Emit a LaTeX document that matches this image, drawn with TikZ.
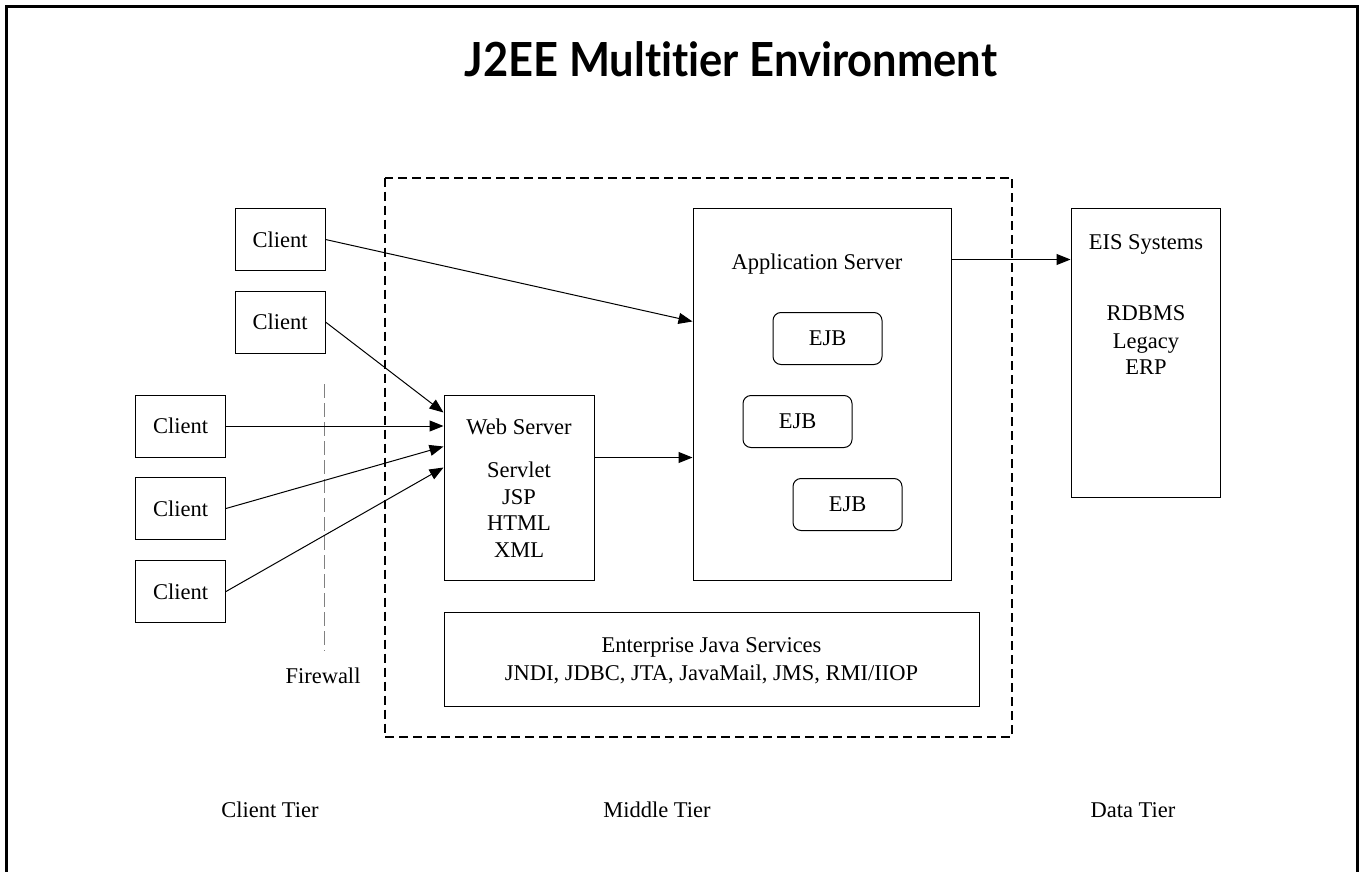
\documentclass[tikz,border=0pt]{standalone}
\usepackage{fontspec}
\setmainfont{Liberation Serif}
\newfontfamily\titlefont{Lato}[Ligatures={NoCommon}]
\usetikzlibrary{arrows.meta,calc}
\tikzset{
  txt/.style={inner sep=0pt, yshift=-5pt, font=\fontsize{22.5}{27}\selectfont, text height=0.68em, text depth=0.2em},
  box/.style={draw, line width=1pt, inner sep=0pt},
  client/.style={box, minimum width=90, minimum height=62, font=\fontsize{22.5}{27}\selectfont},
  ejb/.style={box, rounded corners=8, minimum width=109, minimum height=52, font=\fontsize{22.5}{27}\selectfont},
  arr/.style={line width=1pt, -{Triangle[length=14pt,width=11pt]}},
}
\begin{document}
\begin{tikzpicture}[x=1pt,y=-1pt]
\useasboundingbox (0,0) rectangle (1359,872);
% outer frame
\draw[line width=3pt] (6.5,872) -- (6.5,6.5) -- (1357.5,6.5) -- (1357.5,872);
% title
\node[inner sep=0pt, text height=34pt, text depth=0pt] (title) at (731,60) {\scalebox{0.925}[1]{\titlefont\bfseries\fontsize{47}{52}\selectfont J2EE Multitier Environment}};
% middle tier dashed box
\draw[line width=2pt, dash pattern=on 9pt off 5pt] (384.5,177.5) rectangle (1012,737);
% firewall
\coordinate (fwtop) at (324.5,384);
\coordinate (fwbot) at (324.5,651);
\draw[gray, line width=1.5pt, dash pattern=on 14pt off 5pt] (fwtop) -- (fwbot);
\node[txt] (fw) at (323,676) {Firewall};
% clients
\node[client] (c1) at (280,239.5) {Client};
\node[client] (c2) at (280,322) {Client};
\node[client] (c3) at (180.5,426) {Client};
\node[client] (c4) at (180.5,508.5) {Client};
\node[client] (c5) at (180.5,591.5) {Client};
% web server
\node[box, minimum width=150, minimum height=185] (web) at (519,487.5) {};
\node[txt] (webt) at (519,427) {Web Server};
\node[txt] (w1) at (519,470) {Servlet};
\node[txt] (w2) at (519,497) {JSP};
\node[txt] (w3) at (519,523.5) {HTML};
\node[txt] (w4) at (519,550) {XML};
% application server
\node[box, minimum width=258, minimum height=372] (app) at (822,394) {};
\node[txt] (appt) at (817,262) {Application Server};
\node[ejb] (e1) at (827.5,338.5) {EJB};
\node[ejb] (e2) at (797.5,421.5) {EJB};
\node[ejb] (e3) at (847.5,504.5) {EJB};
% EIS
\node[box, minimum width=149, minimum height=289] (eis) at (1145.5,352.5) {};
\node[txt] (eist) at (1146,242) {EIS Systems};
\node[txt] (d1) at (1146,313) {RDBMS};
\node[txt] (d2) at (1146,341) {Legacy};
\node[txt] (d3) at (1146,367) {ERP};
% enterprise java services
\node[box, minimum width=535, minimum height=94] (ejs) at (711.5,659) {};
\node[txt] (ejs1) at (711.5,645) {Enterprise Java Services};
\node[txt] (ejs2) at (711.5,673) {JNDI, JDBC, JTA, JavaMail, JMS, RMI/IIOP};
% tiers
\node[txt] (t1) at (270,810) {Client Tier};
\node[txt] (t2) at (657,810) {Middle Tier};
\node[txt] (t3) at (1133,810) {Data Tier};
% connectors
\draw[arr] (c1.east) -- ($(app.north west)+(0,114)$);
\draw[arr] (c2.east) -- ($(web.north west)+(0,18)$);
\draw[arr] (c3.east) -- (web.west |- c3.east);
\draw[arr] (c4.east) -- ($(web.north west)+(0,52)$);
\draw[arr] (c5.east) -- ($(web.north west)+(0,73)$);
\draw[arr] ($(web.north east)+(0,63)$) -- ($(app.north west)+(0,250)$);
\draw[arr] ($(app.north east)+(0,52)$) -- ($(eis.north west)+(0,52)$);
\end{tikzpicture}
\end{document}
